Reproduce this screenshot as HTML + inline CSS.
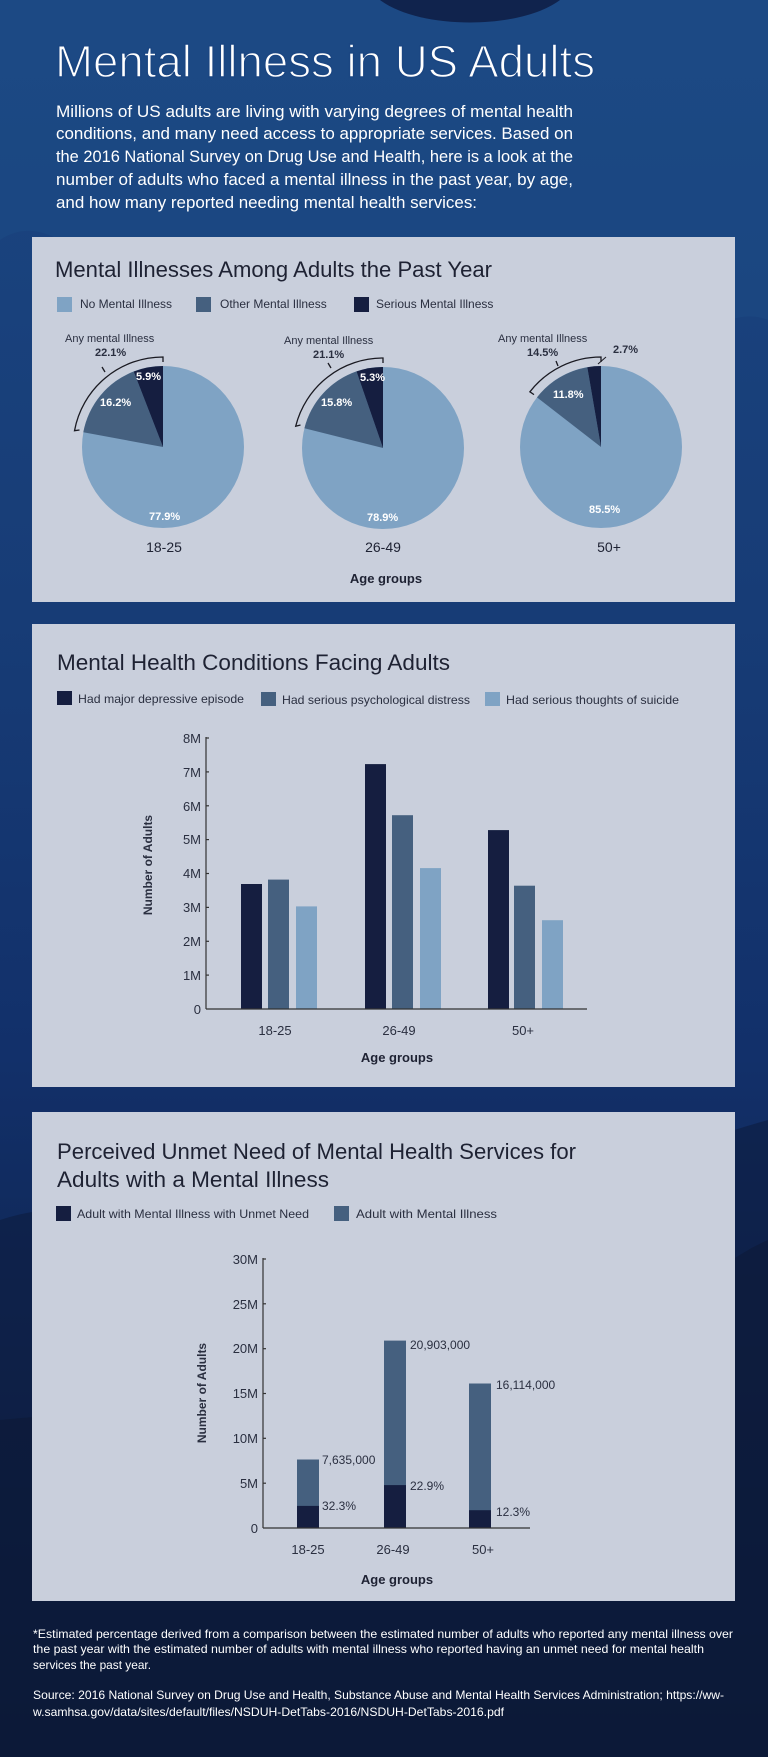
<!DOCTYPE html>
<html><head><meta charset="utf-8"><style>
html,body{margin:0;padding:0;background:#163a70;}
svg{display:block;}
text{font-family:"Liberation Sans",sans-serif;}
</style></head><body>
<svg width="768" height="1757" viewBox="0 0 768 1757" xmlns="http://www.w3.org/2000/svg">
<defs>
<linearGradient id="bg" x1="0" y1="0" x2="0" y2="1">
<stop offset="0" stop-color="#1b4682"/>
<stop offset="0.35" stop-color="#173c76"/>
<stop offset="0.6" stop-color="#12306a"/>
<stop offset="0.8" stop-color="#0f2550"/>
<stop offset="1" stop-color="#0c1a38"/>
</linearGradient>
</defs>
<rect width="768" height="1757" fill="url(#bg)"/>
<path d="M0 240 C60 200 120 300 200 380 C300 470 420 440 560 400 C660 370 720 300 768 320 L768 0 L0 0Z" fill="#1f4f89" opacity="0.35"/>
<path d="M380 0 C420 30 520 30 560 0Z" fill="#10234d"/>
<path d="M0 1220 C120 1180 260 1260 420 1230 C560 1200 660 1150 768 1120 L768 1757 L0 1757Z" fill="#0d1d40" opacity="0.6"/>
<path d="M0 1420 C200 1400 400 1420 560 1360 C660 1320 720 1260 768 1240 L768 1757 L0 1757Z" fill="#0b1734" opacity="0.5"/>

<!-- Header -->
<text x="55" y="77" font-size="45" fill="#ffffff" stroke="#1b4682" stroke-width="1.4" textLength="540" lengthAdjust="spacingAndGlyphs">Mental Illness in US Adults</text>
<g font-size="17" fill="#ffffff">
<text x="56" y="117" textLength="517" lengthAdjust="spacingAndGlyphs">Millions of US adults are living with varying degrees of mental health</text>
<text x="56" y="139" textLength="517" lengthAdjust="spacingAndGlyphs">conditions, and many need access to appropriate services. Based on</text>
<text x="56" y="162" textLength="517" lengthAdjust="spacingAndGlyphs">the 2016 National Survey on Drug Use and Health, here is a look at the</text>
<text x="56" y="185" textLength="517" lengthAdjust="spacingAndGlyphs">number of adults who faced a mental illness in the past year, by age,</text>
<text x="56" y="208" textLength="421" lengthAdjust="spacingAndGlyphs">and how many reported needing mental health services:</text>
</g>

<!-- Panel 1 -->
<rect x="32" y="237" width="703" height="365" fill="#c9cfdc"/>
<text x="55" y="277" font-size="22" fill="#1e2233" textLength="437" lengthAdjust="spacingAndGlyphs">Mental Illnesses Among Adults the Past Year</text>
<g font-size="12" fill="#2a2f40">
<rect x="57" y="297" width="15" height="15" fill="#7fa3c4"/><text x="80" y="308">No Mental Illness</text>
<rect x="196" y="297" width="15" height="15" fill="#45607f"/><text x="220" y="308">Other Mental Illness</text>
<rect x="354" y="297" width="15" height="15" fill="#151e40"/><text x="376" y="308">Serious Mental Illness</text>
</g>
<circle cx="163" cy="447" r="81" fill="#7fa3c4"/>
<path d="M163 447 L133.7 371.5 A81 81 0 0 0 83.3 432.3Z" fill="#45607f"/>
<path d="M163 447 L163 366 A81 81 0 0 0 133.7 371.5Z" fill="#151e40"/>
<path d="M163 362 L163 357 A90 90 0 0 0 74.5 430.7 L79.5 430" fill="none" stroke="#1a1a22" stroke-width="1.3"/>
<line x1="105" y1="372" x2="102" y2="367" stroke="#1a1a22" stroke-width="1.3"/>
<circle cx="383" cy="448" r="81" fill="#7fa3c4"/>
<path d="M383 448 L356.5 371.4 A81 81 0 0 0 304.4 428.3Z" fill="#45607f"/>
<path d="M383 448 L383 367 A81 81 0 0 0 356.5 371.4Z" fill="#151e40"/>
<path d="M383 363 L383 358 A90 90 0 0 0 295.7 426.2 L300.5 425" fill="none" stroke="#1a1a22" stroke-width="1.3"/>
<line x1="331" y1="368" x2="328" y2="363" stroke="#1a1a22" stroke-width="1.3"/>
<circle cx="601" cy="447" r="81" fill="#7fa3c4"/>
<path d="M601 447 L587.3 367.2 A81 81 0 0 0 537 397.4Z" fill="#45607f"/>
<path d="M601 447 L601 366 A81 81 0 0 0 587.3 367.2Z" fill="#151e40"/>
<path d="M601 362 L601 357 A90 90 0 0 0 529.9 391.8 L534 394.6" fill="none" stroke="#1a1a22" stroke-width="1.3"/>
<line x1="558" y1="366" x2="556" y2="361" stroke="#1a1a22" stroke-width="1.3"/>
<line x1="598" y1="364" x2="606" y2="357" stroke="#1a1a22" stroke-width="1"/>
<g font-size="11" fill="#2a2f40">
<text x="65" y="342">Any mental Illness</text>
<text x="284" y="344">Any mental Illness</text>
<text x="498" y="342">Any mental Illness</text>
</g>
<g font-size="11" font-weight="bold" fill="#2a2f40">
<text x="95" y="356">22.1%</text>
<text x="313" y="358">21.1%</text>
<text x="527" y="356">14.5%</text>
<text x="613" y="353">2.7%</text>
</g>
<g font-size="11" font-weight="bold" fill="#ffffff">
<text x="136" y="380">5.9%</text>
<text x="100" y="406">16.2%</text>
<text x="149" y="520">77.9%</text>
<text x="360" y="381">5.3%</text>
<text x="321" y="406">15.8%</text>
<text x="367" y="521">78.9%</text>
<text x="553" y="398">11.8%</text>
<text x="589" y="513">85.5%</text>
</g>
<g font-size="14" fill="#1e2233" text-anchor="middle">
<text x="164" y="552">18-25</text>
<text x="383" y="552">26-49</text>
<text x="609" y="552">50+</text>
</g>
<text x="386" y="583" font-size="13" font-weight="bold" fill="#1e2233" text-anchor="middle">Age groups</text>

<!-- Panel 2 -->
<rect x="32" y="624" width="703" height="463" fill="#c9cfdc"/>
<text x="57" y="670" font-size="22" fill="#1e2233" textLength="393" lengthAdjust="spacingAndGlyphs">Mental Health Conditions Facing Adults</text>
<g font-size="12" fill="#2a2f40">
<rect x="57" y="691" width="15" height="14" fill="#151e40"/><text x="78" y="703" textLength="166" lengthAdjust="spacingAndGlyphs">Had major depressive episode</text>
<rect x="261" y="692" width="15" height="14" fill="#45607f"/><text x="282" y="704" textLength="188" lengthAdjust="spacingAndGlyphs">Had serious psychological distress</text>
<rect x="485" y="692" width="15" height="14" fill="#7fa3c4"/><text x="506" y="704" textLength="173" lengthAdjust="spacingAndGlyphs">Had serious thoughts of suicide</text>
</g>
<g fill="#151e40"><rect x="241" y="884" width="21" height="125"/><rect x="365" y="764.1" width="21" height="244.9"/><rect x="488" y="830.1" width="21" height="178.9"/></g>
<g fill="#45607f"><rect x="268" y="879.6" width="21" height="129.4"/><rect x="392" y="815.2" width="21" height="193.8"/><rect x="514" y="885.7" width="21" height="123.3"/></g>
<g fill="#7fa3c4"><rect x="296" y="906.4" width="21" height="102.6"/><rect x="420" y="868.1" width="21" height="140.9"/><rect x="542" y="920.2" width="21" height="88.8"/></g>
<g stroke="#333" stroke-width="1.2">
<line x1="206" y1="737" x2="206" y2="1009"/><line x1="206" y1="1009" x2="587" y2="1009"/>
<line x1="206" y1="738" x2="209" y2="738"/><line x1="206" y1="771.9" x2="209" y2="771.9"/><line x1="206" y1="805.8" x2="209" y2="805.8"/><line x1="206" y1="839.6" x2="209" y2="839.6"/><line x1="206" y1="873.5" x2="209" y2="873.5"/><line x1="206" y1="907.4" x2="209" y2="907.4"/><line x1="206" y1="941.3" x2="209" y2="941.3"/><line x1="206" y1="975.1" x2="209" y2="975.1"/>
</g>
<g font-size="13" fill="#2a2f40" text-anchor="end">
<text x="201" y="743">8M</text><text x="201" y="777">7M</text><text x="201" y="811">6M</text><text x="201" y="844">5M</text><text x="201" y="878">4M</text><text x="201" y="912">3M</text><text x="201" y="946">2M</text><text x="201" y="980">1M</text><text x="201" y="1014">0</text>
</g>
<text transform="translate(152 865) rotate(-90)" font-size="12" font-weight="bold" fill="#2a2f40" text-anchor="middle">Number of Adults</text>
<g font-size="13" fill="#2a2f40" text-anchor="middle">
<text x="275" y="1035">18-25</text><text x="399" y="1035">26-49</text><text x="523" y="1035">50+</text>
</g>
<text x="397" y="1062" font-size="13" font-weight="bold" fill="#1e2233" text-anchor="middle">Age groups</text>

<!-- Panel 3 -->
<rect x="32" y="1112" width="703" height="489" fill="#c9cfdc"/>
<text x="57" y="1159" font-size="22" fill="#1e2233" textLength="519" lengthAdjust="spacingAndGlyphs">Perceived Unmet Need of Mental Health Services for</text>
<text x="57" y="1187" font-size="22" fill="#1e2233" textLength="272" lengthAdjust="spacingAndGlyphs">Adults with a Mental Illness</text>
<g font-size="12" fill="#2a2f40">
<rect x="56" y="1206" width="15" height="15" fill="#151e40"/><text x="77" y="1218" textLength="232" lengthAdjust="spacingAndGlyphs">Adult with Mental Illness with Unmet Need</text>
<rect x="334" y="1206" width="15" height="15" fill="#45607f"/><text x="356" y="1218" textLength="141" lengthAdjust="spacingAndGlyphs">Adult with Mental Illness</text>
</g>
<g fill="#45607f"><rect x="297" y="1459.5" width="22" height="68.5"/><rect x="384" y="1340.6" width="22" height="187.4"/><rect x="469" y="1383.5" width="22" height="144.5"/></g>
<g fill="#151e40"><rect x="297" y="1505.9" width="22" height="22.1"/><rect x="384" y="1485.1" width="22" height="42.9"/><rect x="469" y="1510.2" width="22" height="17.8"/></g>
<g stroke="#333" stroke-width="1.2">
<line x1="263" y1="1258" x2="263" y2="1528"/><line x1="263" y1="1528" x2="530" y2="1528"/>
<line x1="263" y1="1259" x2="266" y2="1259"/><line x1="263" y1="1303.8" x2="266" y2="1303.8"/><line x1="263" y1="1348.7" x2="266" y2="1348.7"/><line x1="263" y1="1393.5" x2="266" y2="1393.5"/><line x1="263" y1="1438.3" x2="266" y2="1438.3"/><line x1="263" y1="1483.2" x2="266" y2="1483.2"/>
</g>
<g font-size="13" fill="#2a2f40" text-anchor="end">
<text x="258" y="1264">30M</text><text x="258" y="1309">25M</text><text x="258" y="1353">20M</text><text x="258" y="1398">15M</text><text x="258" y="1443">10M</text><text x="258" y="1488">5M</text><text x="258" y="1533">0</text>
</g>
<g font-size="12" fill="#2a2f40">
<text x="322" y="1464">7,635,000</text><text x="322" y="1510">32.3%</text>
<text x="410" y="1349">20,903,000</text><text x="410" y="1490">22.9%</text>
<text x="496" y="1389">16,114,000</text><text x="496" y="1516">12.3%</text>
</g>
<text transform="translate(206 1393) rotate(-90)" font-size="12" font-weight="bold" fill="#2a2f40" text-anchor="middle">Number of Adults</text>
<g font-size="13" fill="#2a2f40" text-anchor="middle">
<text x="308" y="1554">18-25</text><text x="393" y="1554">26-49</text><text x="483" y="1554">50+</text>
</g>
<text x="397" y="1584" font-size="13" font-weight="bold" fill="#1e2233" text-anchor="middle">Age groups</text>

<g font-size="12" fill="#ffffff">
<text x="33" y="1638" textLength="700" lengthAdjust="spacingAndGlyphs">*Estimated percentage derived from a comparison between the estimated number of adults who reported any mental illness over</text>
<text x="33" y="1653" textLength="671" lengthAdjust="spacingAndGlyphs">the past year with the estimated number of adults with mental illness who reported having an unmet need for mental health</text>
<text x="33" y="1669" textLength="118" lengthAdjust="spacingAndGlyphs">services the past year.</text>
<text x="33" y="1699" textLength="691" lengthAdjust="spacingAndGlyphs">Source: 2016 National Survey on Drug Use and Health, Substance Abuse and Mental Health Services Administration; https://ww-</text>
<text x="33" y="1716" textLength="471" lengthAdjust="spacingAndGlyphs">w.samhsa.gov/data/sites/default/files/NSDUH-DetTabs-2016/NSDUH-DetTabs-2016.pdf</text>
</g>
</svg>
</body></html>
